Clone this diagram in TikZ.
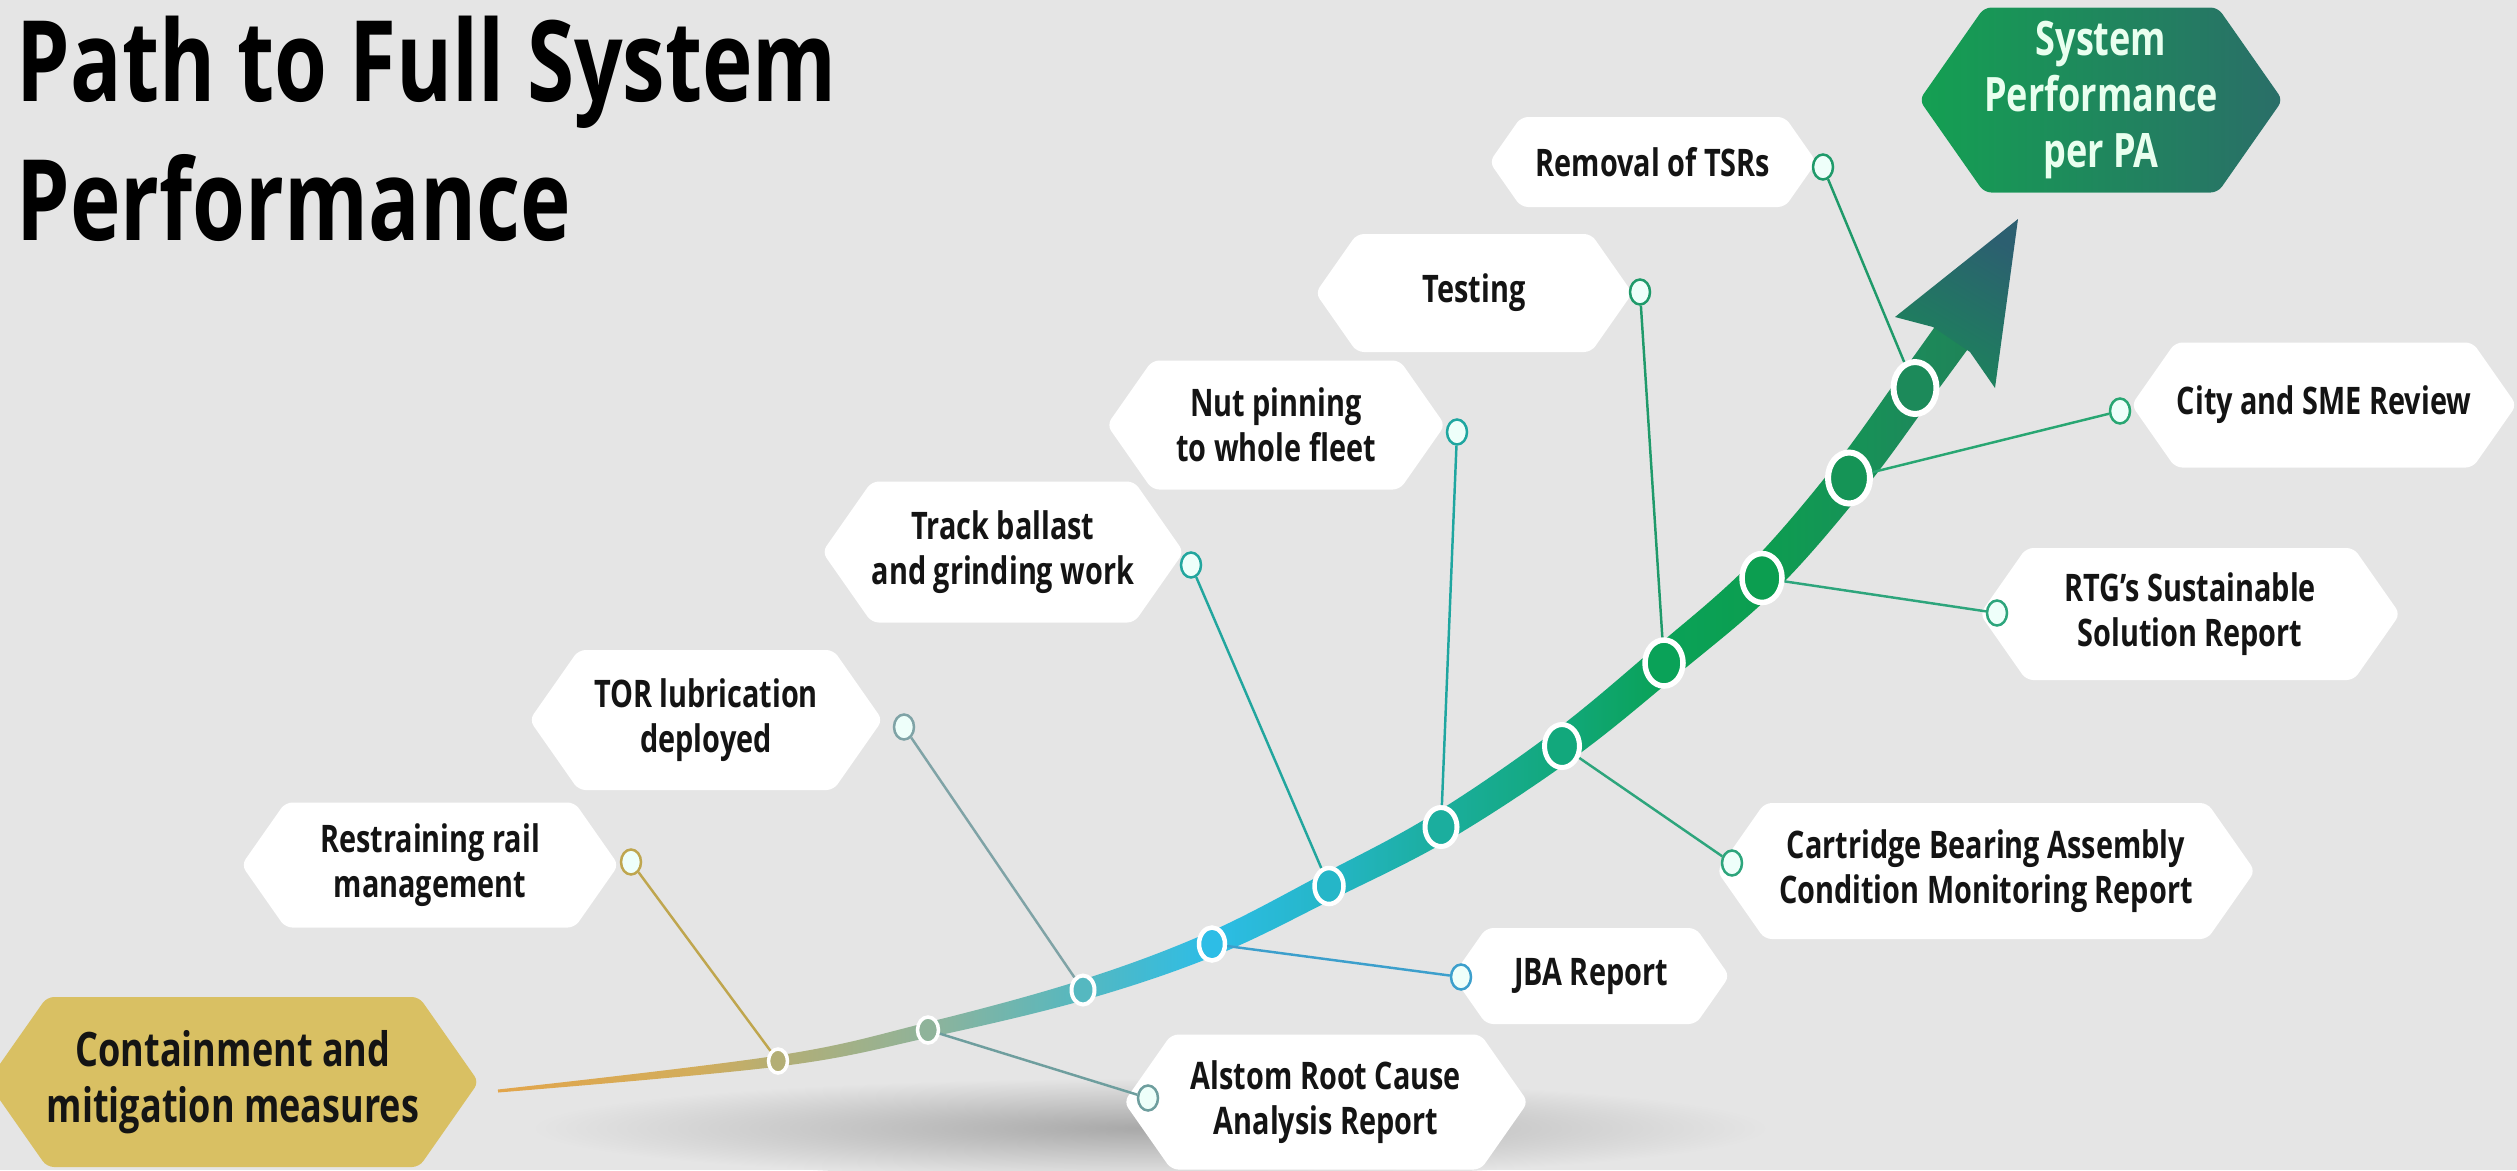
\documentclass[tikz,border=0pt]{standalone}
\usepackage{fontspec}
\setmainfont{Open Sans}[FakeStretch=0.76]
\usetikzlibrary{calc,shapes.symbols,shapes.geometric}

\definecolor{bgcol}{HTML}{E5E5E5}
\definecolor{shadowcol}{HTML}{A8A8A8}
\definecolor{goldbox}{HTML}{D9C063}
\definecolor{sysA}{HTML}{14A052}
\definecolor{sysB}{HTML}{2A6E68}
\definecolor{systext}{HTML}{E9FFEF}
\definecolor{knobfill}{HTML}{EEFFFA}
\definecolor{arrowbase}{HTML}{1B865A}
\definecolor{arrowtip}{HTML}{2C5F70}
% colours along the track
\definecolor{tr0}{HTML}{E2A54A}
\definecolor{tr1}{HTML}{D2AD5C}
\definecolor{tr2}{HTML}{B3AE75}
\definecolor{tr3}{HTML}{8FB39A}
\definecolor{tr4}{HTML}{55B8C0}
\definecolor{tr5}{HTML}{2DBDE6}
\definecolor{tr6}{HTML}{25B6C8}
\definecolor{tr7}{HTML}{1BAE9E}
\definecolor{tr8}{HTML}{12A87C}
\definecolor{tr9}{HTML}{0AA258}
\definecolor{tr10}{HTML}{0C9E50}
\definecolor{tr11}{HTML}{159456}
\definecolor{tr12}{HTML}{1C8A5A}
\definecolor{tr13}{HTML}{1F8458}
% leader colours
\definecolor{ldA}{HTML}{BFA64E}
\definecolor{ldB}{HTML}{6E9E9E}
\definecolor{ldC}{HTML}{7FA3A6}
\definecolor{ldD}{HTML}{3C9FCC}
\definecolor{ldE}{HTML}{22A69E}
\definecolor{ldF}{HTML}{1FA6A0}
\definecolor{ldG}{HTML}{2DA57C}
\definecolor{ldH}{HTML}{1F9A6A}
\definecolor{ldJ}{HTML}{28A672}

\pgfdeclarehorizontalshading{trackgrad}{100bp}{color(0bp)=(tr0); color(25bp)=(tr0);
  color(31.8bp)=(tr1); color(34.5bp)=(tr2); color(39.6bp)=(tr3); color(44.8bp)=(tr4);
  color(49.2bp)=(tr5); color(53.1bp)=(tr6); color(56.9bp)=(tr7); color(61bp)=(tr8);
  color(64.5bp)=(tr9); color(67.8bp)=(tr10); color(70.7bp)=(tr11); color(73bp)=(tr12);
  color(75bp)=(tr13); color(100bp)=(tr13)}

\newcommand{\lblfont}{\fontsize{10.8}{12.8}\selectfont\bfseries}
\newcommand{\bigfont}{\fontsize{13.5}{16}\selectfont\bfseries}
\newcommand{\titlefont}{\fontsize{32}{39.3}\selectfont\bfseries}

\tikzset{
  hexbox/.style={shape=signal, signal to=west and east, signal pointer angle=110,
    fill=white, align=center, font=\lblfont, text=black!92, inner sep=0pt, rounded corners=2pt},
  milestone/.style={ellipse, draw=white, inner sep=0pt},
  knob/.style={ellipse, draw=#1, fill=knobfill, line width=0.25mm,
    minimum width=2mm, minimum height=2.5mm, inner sep=0pt},
  lead/.style={draw=#1, line width=0.7pt},
}

\begin{document}
\begin{tikzpicture}[x=0.1mm, y=-0.1mm]
  \useasboundingbox (0,0) rectangle (2517,1170);
  \fill[bgcol] (0,0) rectangle (2517,1170);
  \shade[inner color=shadowcol, outer color=bgcol] (1150,1128) ellipse [x radius=62mm, y radius=5mm];

  \node[anchor=base west, align=left, font=\titlefont, inner sep=0pt] (title) at (16,240)
    {Path to Full System\\Performance};

  % label boxes
  \node[hexbox, fill=goldbox, font=\bigfont, minimum width=44.9mm, minimum height=17mm] (cont) at (233,1082)
    {Containment and\\mitigation measures};
  \node[hexbox, minimum width=37.7mm, minimum height=12.5mm] (rest) at (430,865) {Restraining rail\\management};
  \node[hexbox, minimum width=35.3mm, minimum height=14mm] (tor) at (706,720) {TOR lubrication\\deployed};
  \node[hexbox, minimum width=35.3mm, minimum height=14.1mm] (track) at (1003,552) {Track ballast\\and grinding work};
  \node[hexbox, minimum width=33.8mm, minimum height=12.9mm] (nut) at (1276,425) {Nut pinning\\to whole fleet};
  \node[hexbox, minimum width=31.7mm, minimum height=11.8mm] (test) at (1474,293) {Testing};
  \node[hexbox, minimum width=32.7mm, minimum height=9mm] (tsr) at (1653,162) {Removal of TSRs};
  \node[hexbox, left color=sysA, right color=sysB, text=systext, font=\bigfont,
    minimum width=35mm, minimum height=18.5mm] (sys) at (2101,100) {System\\Performance\\per PA};
  \node[hexbox, minimum width=38.5mm, minimum height=12.5mm] (city) at (2324,405) {City and SME Review};
  \node[hexbox, minimum width=42mm, minimum height=13.2mm] (rtg) at (2190,614) {RTG’s Sustainable\\Solution Report};
  \node[hexbox, minimum width=53.8mm, minimum height=13.6mm] (cba) at (1986,871)
    {Cartridge Bearing Assembly\\Condition Monitoring Report};
  \node[hexbox, minimum width=27.7mm, minimum height=9.6mm] (jba) at (1591,976) {JBA Report};
  \node[hexbox, minimum width=40.4mm, minimum height=13.5mm] (alst) at (1326,1102) {Alstom Root Cause\\Analysis Report};

  % small rings at the boxes
  \node[knob=ldA] (k-rest) at (631,862) {};
  \node[knob=ldB] (k-alst) at (1148,1098) {};
  \node[knob=ldC] (k-tor) at (904,727) {};
  \node[knob=ldD] (k-jba) at (1461,977) {};
  \node[knob=ldE] (k-track) at (1191,565) {};
  \node[knob=ldF] (k-nut) at (1457,432) {};
  \node[knob=ldG] (k-cba) at (1732,863) {};
  \node[knob=ldH] (k-test) at (1640,292) {};
  \node[knob=ldG] (k-rtg) at (1997,613) {};
  \node[knob=ldJ] (k-city) at (2120,411) {};
  \node[knob=ldH] (k-tsr) at (1823,167) {};

  % centre line of the track
  \foreach \i/\x/\y in {0/498/1091, 1/778/1061, 2/928/1030, 3/1083/990, 4/1212/944, 5/1329/886,
    6/1441/827, 7/1562/746, 8/1664/663, 9/1762/578, 10/1849/478, 11/1915/388, 12/1952/337, 13/2018/219}
    \coordinate (c\i) at (\x,\y);
  \foreach \i/\j/\w in {0/1/0.15, 1/2/0.55, 2/3/0.75, 3/4/1.0, 4/5/1.2, 5/6/1.35, 6/7/1.5,
    7/8/1.65, 8/9/1.75, 9/10/1.85, 10/11/1.9, 11/12/1.95, 12/13/2.0}{
    \coordinate (u\i) at ($(c\i)!\w mm!90:(c\j)$);
    \coordinate (l\i) at ($(c\i)!\w mm!-90:(c\j)$);
  }
  \shade[shading=trackgrad]
    plot[smooth, tension=0.6] coordinates {(u0) (u1) (u2) (u3) (u4) (u5) (u6) (u7) (u8) (u9) (u10) (u11) (u12)}
    -- plot[smooth, tension=0.6] coordinates {(l12) (l11) (l10) (l9) (l8) (l7) (l6) (l5) (l4) (l3) (l2) (l1) (l0)}
    -- cycle;

  % arrow head
  \coordinate (ah-r) at (1995,388);
  \coordinate (ah-rn) at (1970,352);
  \coordinate (ah-ln) at (1933,327);
  \coordinate (ah-l) at (1895,317);
  \shade[top color=arrowtip, bottom color=arrowbase, shading angle=-30]
    (c13) -- (ah-r) -- (ah-rn) -- (ah-ln) -- (ah-l) -- cycle;

  % milestones on the track
  \foreach \i/\w/\h/\r/\c in {1/1.9/2.4/0.35/tr2, 2/2.1/2.6/0.35/tr3, 3/2.3/2.9/0.4/tr4,
    4/2.6/3.3/0.45/tr5, 5/2.9/3.6/0.45/tr6, 6/3.2/3.9/0.5/tr7, 7/3.5/4.3/0.5/tr8,
    8/3.8/4.6/0.55/tr9, 9/4.0/4.9/0.55/tr10, 10/4.2/5.1/0.6/tr11, 11/4.3/5.2/0.6/tr12}
    \node[milestone, minimum width=\w mm, minimum height=\h mm, line width=\r mm, fill=\c] (d\i) at (c\i) {};

  % leaders
  \foreach \d/\k/\c in {1/rest/ldA, 2/alst/ldB, 3/tor/ldC, 4/jba/ldD, 5/track/ldE, 6/nut/ldF,
    7/cba/ldG, 8/test/ldH, 9/rtg/ldG, 10/city/ldJ, 11/tsr/ldH}
    \draw[lead=\c] (d\d) -- (k-\k);
\end{tikzpicture}
\end{document}
